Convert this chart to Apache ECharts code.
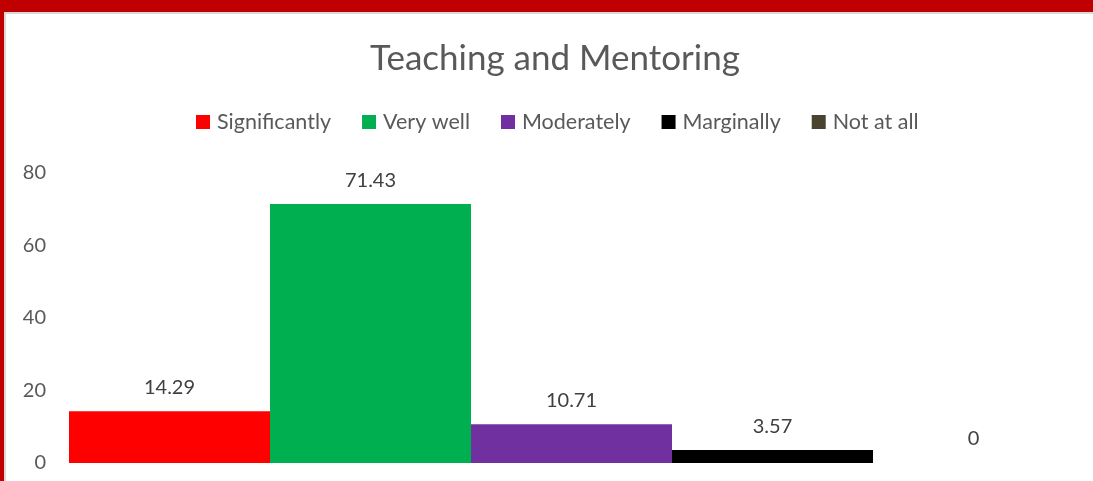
<!DOCTYPE html>
<html>
<head>
<meta charset="utf-8">
<script src="https://cdn.jsdelivr.net/npm/echarts@6/dist/echarts.min.js"></script>
<style>
  html, body { margin: 0; padding: 0; background: #fff; }
  #frame {
    position: absolute; left: 0; top: 0; width: 1093px; height: 481px;
    box-sizing: border-box; border-top: 12px solid #c00000; border-left: 4px solid #c00000;
  }
  #inner {
    position: absolute; left: 0; top: 0; right: 0; bottom: 0;
    border-top: 2px solid #d9d9d9; border-left: 2px solid #d9d9d9;
  }
  #chart { position: absolute; left: 0; top: 0; width: 1093px; height: 481px; }
</style>
</head>
<body>
<div id="frame"><div id="inner"></div></div>
<div id="chart"></div>
<script>
  // 数据
  const categories = ['Teaching and Mentoring']
  const seriesNames = ['Significantly', 'Very well', 'Moderately', 'Marginally', 'Not at all']
  const seriesValues = [14.29, 71.43, 10.71, 3.57, 0]
  const seriesColors = ['#ff0000', '#00b050', '#7030a0', '#000000', '#4a4330']
  const yTicks = [0, 20, 40, 60, 80]

  const font = 'Lato, "Open Sans", sans-serif'
  const textColor = '#595959'

  const chart = echarts.init(document.getElementById('chart'))

  chart.setOption({
    animation: false,
    title: {
      text: 'Teaching and Mentoring',
      left: 370,
      top: 41,
      padding: 0,
      textStyle: { fontFamily: font, fontSize: 35, fontWeight: 'normal', color: textColor },
    },
    legend: {
      top: 111,
      left: 196,
      padding: 0,
      itemWidth: 14,
      itemHeight: 14,
      itemGap: 31,
      icon: 'rect',
      textStyle: { fontFamily: font, fontSize: 21.5, color: textColor, padding: [0, 0, 0, 2] },
      data: seriesNames,
    },
    grid: { left: 69, right: 19, top: 173, bottom: 18 },
    xAxis: {
      type: 'category',
      data: categories,
      axisLine: { show: false },
      axisTick: { show: false },
      axisLabel: { show: false },
    },
    yAxis: {
      type: 'value',
      min: yTicks[0],
      max: yTicks[yTicks.length - 1],
      interval: 20,
      splitLine: { show: false },
      axisLine: { show: false },
      axisTick: { show: false },
      axisLabel: { fontFamily: font, fontSize: 20, color: textColor, margin: 23 },
    },
    series: seriesNames.map((name, i) => ({
      name,
      type: 'bar',
      barGap: '0%',
      barCategoryGap: '0%',
      data: [seriesValues[i]],
      itemStyle: { color: seriesColors[i] },
      label: {
        show: true,
        position: 'top',
        distance: 14,
        fontFamily: font,
        fontSize: 20,
        color: '#404040',
      },
    })),
  })
</script>
</body>
</html>
